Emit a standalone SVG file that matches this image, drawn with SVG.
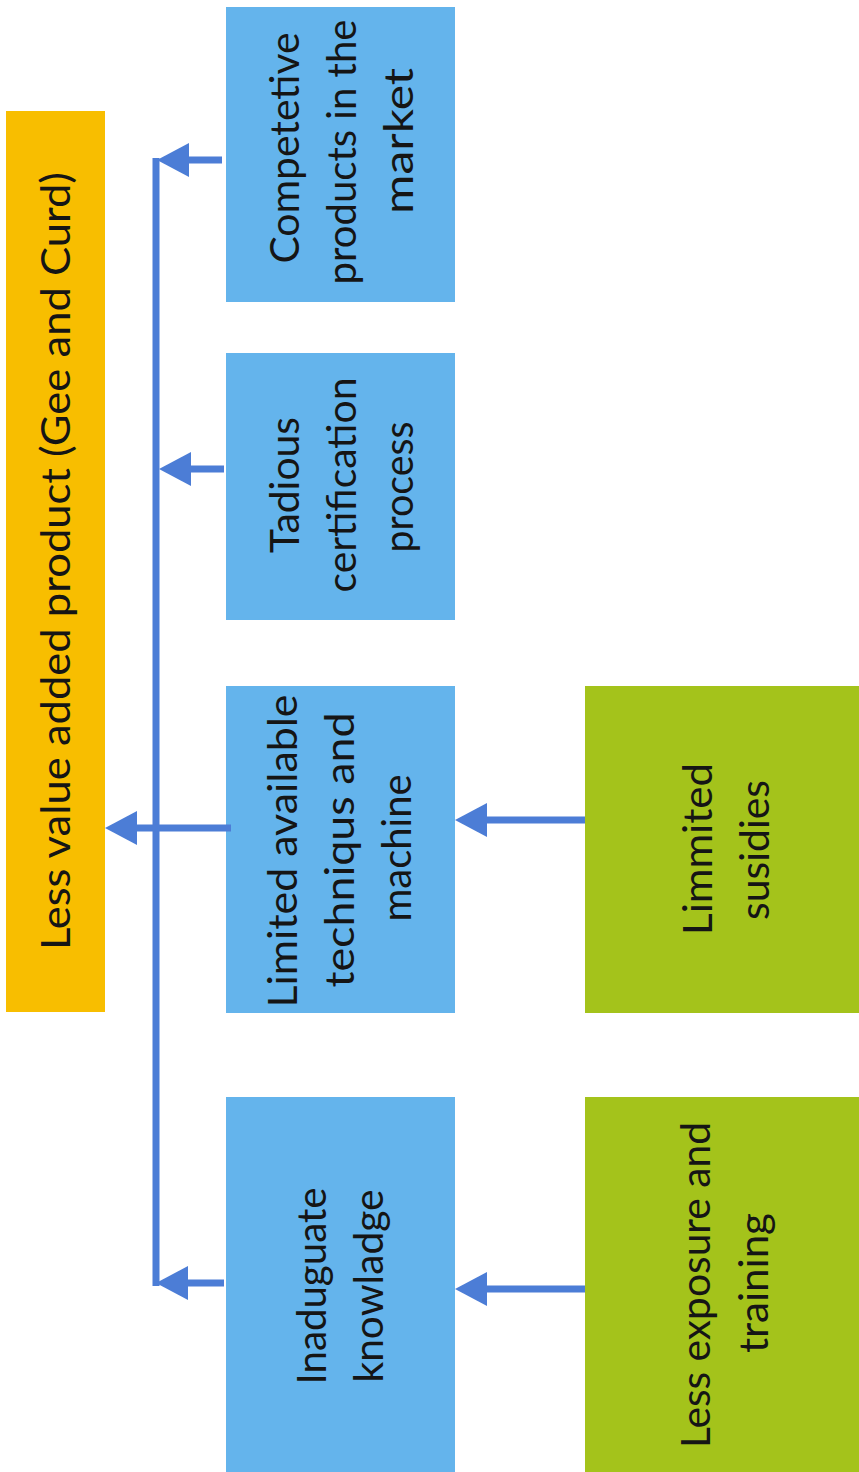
<svg xmlns="http://www.w3.org/2000/svg" width="859" height="1472" viewBox="0 0 859 1472">
  <style>
    .cause { fill: #64B4EC; }
    .root { fill: #F8BE00; }
    .base { fill: #A4C31B; }
    .lbl { font-family: Lato, "Open Sans", "Liberation Sans", sans-serif; font-size: 41px; fill: #151515; text-anchor: middle; }
    .wire { stroke: #4C7DD6; stroke-width: 7; fill: none; }
  </style>
  <defs>
    <marker id="head" markerUnits="userSpaceOnUse" markerWidth="32" markerHeight="34" refX="0" refY="17" orient="auto">
      <path d="M0,0 L32,17 L0,34 Z" fill="#4C7DD6"/>
    </marker>
  </defs>
  <rect width="859" height="1472" fill="#FFFFFF"/>

  <!-- effect: top-level problem -->
  <g id="node-root">
    <rect class="root" x="6" y="111" width="99" height="901"/>
    <g transform="rotate(-90)">
      <text class="lbl" x="-561" y="70" textLength="778" lengthAdjust="spacingAndGlyphs">Less value added product (Gee and Curd)</text>
    </g>
  </g>

  <!-- direct causes -->
  <g id="node-competitive">
    <rect class="cause" x="226" y="7" width="229" height="295"/>
    <g transform="rotate(-90)">
      <text class="lbl" x="-148" y="299" textLength="231" lengthAdjust="spacingAndGlyphs">Competetive</text>
      <text class="lbl" x="-152" y="356" textLength="265" lengthAdjust="spacingAndGlyphs">products in the</text>
      <text class="lbl" x="-141" y="413" textLength="146" lengthAdjust="spacingAndGlyphs">market</text>
    </g>
  </g>

  <g id="node-certification">
    <rect class="cause" x="226" y="353" width="229" height="267"/>
    <g transform="rotate(-90)">
      <text class="lbl" x="-485" y="299" textLength="136" lengthAdjust="spacingAndGlyphs">Tadious</text>
      <text class="lbl" x="-485" y="356" textLength="215" lengthAdjust="spacingAndGlyphs">certification</text>
      <text class="lbl" x="-487" y="413" textLength="131" lengthAdjust="spacingAndGlyphs">process</text>
    </g>
  </g>

  <g id="node-technique">
    <rect class="cause" x="226" y="686" width="229" height="327"/>
    <g transform="rotate(-90)">
      <text class="lbl" x="-851" y="297" textLength="313" lengthAdjust="spacingAndGlyphs">Limited available</text>
      <text class="lbl" x="-850" y="354" textLength="275" lengthAdjust="spacingAndGlyphs">techniqus and</text>
      <text class="lbl" x="-848" y="411" textLength="147" lengthAdjust="spacingAndGlyphs">machine</text>
    </g>
  </g>

  <g id="node-knowledge">
    <rect class="cause" x="226" y="1097" width="229" height="375"/>
    <g transform="rotate(-90)">
      <text class="lbl" x="-1286" y="326" textLength="197" lengthAdjust="spacingAndGlyphs">Inaduguate</text>
      <text class="lbl" x="-1286" y="383" textLength="193" lengthAdjust="spacingAndGlyphs">knowladge</text>
    </g>
  </g>

  <!-- root causes -->
  <g id="node-subsidies">
    <rect class="base" x="585" y="686" width="274" height="327"/>
    <g transform="rotate(-90)">
      <text class="lbl" x="-849" y="712" textLength="172" lengthAdjust="spacingAndGlyphs">Limmited</text>
      <text class="lbl" x="-850" y="769" textLength="140" lengthAdjust="spacingAndGlyphs">susidies</text>
    </g>
  </g>

  <g id="node-training">
    <rect class="base" x="585" y="1097" width="274" height="375"/>
    <g transform="rotate(-90)">
      <text class="lbl" x="-1285" y="710" textLength="326" lengthAdjust="spacingAndGlyphs">Less exposure and</text>
      <text class="lbl" x="-1283" y="768" textLength="140" lengthAdjust="spacingAndGlyphs">training</text>
    </g>
  </g>

  <!-- connectors -->
  <g id="connectors">
    <!-- collecting bus -->
    <path class="wire" d="M156,158 V1286"/>
    <!-- cause boxes into the bus -->
    <path class="wire" d="M222,160 H189" marker-end="url(#head)"/>
    <path class="wire" d="M224,469 H191" marker-end="url(#head)"/>
    <path class="wire" d="M224,1283 H188" marker-end="url(#head)"/>
    <!-- bus to the problem box -->
    <path class="wire" d="M231,828 H137" marker-end="url(#head)"/>
    <!-- root causes into cause boxes -->
    <path class="wire" d="M585,820 H487" marker-end="url(#head)"/>
    <path class="wire" d="M585,1289 H487" marker-end="url(#head)"/>
  </g>
</svg>
